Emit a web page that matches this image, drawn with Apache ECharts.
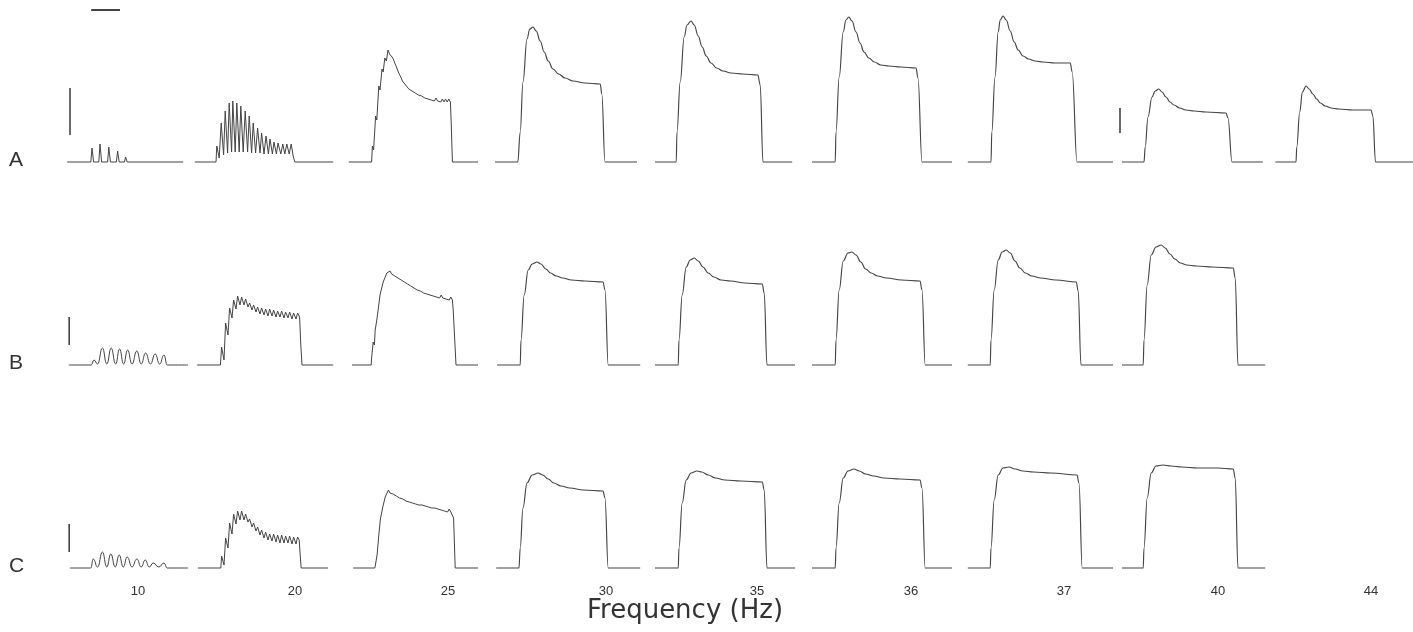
<!DOCTYPE html>
<html>
<head>
<meta charset="utf-8">
<title>Force traces vs stimulation frequency</title>
<script src="https://cdn.jsdelivr.net/npm/echarts@6/dist/echarts.min.js"></script>
<style>
  html, body { margin: 0; padding: 0; background: #fff; }
  #chart { width: 1413px; height: 632px; }
</style>
</head>
<body>
<div id="chart"></div>
<script>
// stimulation frequencies (Hz), one column each
const freqs = ['10', '20', '25', '30', '35', '36', '37', '40', '44'];
const rows = ['A', 'B', 'C'];

// traces: [time (ms), force (arb. units)]
const a10 = [[90,0],[385,0],[400,14],[420,0],[485,0],[500,18],[520,0],[595,0],[610,15],[630,0],[705,0],[720,11],[740,0],[805,0],[820,5],[840,0],[1540,0]];
const a20 = [[60,0],[325,0],[335,16],[365,4],[390,39],[420,7],[440,51],[470,9],[490,59],[520,10],[535,61],[565,10],[585,59],[615,10],[635,56],[665,10],[690,51],[720,10],[740,46],[770,9],[790,39],[820,9],[845,34],[875,9],[895,29],[925,8],[950,26],[980,8],[1000,23],[1030,8],[1050,20],[1080,8],[1100,19],[1135,8],[1160,18],[1185,8],[1210,18],[1240,8],[1265,18],[1290,6],[1310,0],[1790,0]];
const a25 = [[110,0],[395,0],[405,16],[420,12],[445,46],[460,42],[485,76],[500,72],[525,93],[540,90],[560,104],[580,101],[600,112],[620,108],[640,108],[660,104],[680,100],[700,96],[720,92],[740,88],[760,85],[780,81],[800,80],[820,77],[840,76],[860,73],[880,74],[900,71],[920,72],[940,69],[960,70],[980,67],[1000,69],[1020,66],[1040,67],[1060,64],[1080,66],[1100,63],[1120,65],[1140,62],[1160,64],[1180,61],[1200,64],[1220,61],[1240,63],[1260,60],[1280,63],[1300,60],[1320,63],[1340,60],[1360,63],[1380,60],[1390,40],[1405,0],[1725,0]];
const a30 = [[125,0],[410,0],[440,30],[475,80],[525,123],[560,133],[600,135],[640,131],[690,121],[740,110],[790,101],[850,93],[920,88],[1000,84],[1100,81],[1250,79],[1440,78],[1460,68],[1500,0],[1900,0]];
const a35 = [[125,0],[390,0],[400,30],[440,80],[490,125],[525,137],[575,141],[615,137],[665,126],[715,115],[765,106],[825,99],[895,94],[975,91],[1075,89],[1225,88],[1410,87],[1440,77],[1475,0],[1840,0]];
const a36 = [[150,0],[440,0],[450,30],[490,85],[540,130],[575,142],[610,145],[650,141],[700,130],[750,119],[800,110],[860,104],[930,100],[1010,97],[1110,96],[1260,95],[1450,94],[1475,84],[1525,0],[1900,0]];
const a37 = [[160,0],[450,0],[460,30],[500,85],[540,130],[565,142],[600,146],[640,142],[690,131],[740,120],[790,112],[850,106],[920,103],[1000,101],[1100,100],[1250,99],[1440,99],[1465,90],[1525,0],[1975,0]];
const a40 = [[150,0],[425,0],[440,15],[475,45],[525,65],[565,71],[610,73],[650,70],[700,65],[750,60],[800,57],[870,54],[950,52],[1050,51],[1200,50],[1450,49],[1475,44],[1525,0],[1910,0]];
const a44 = [[165,0],[440,0],[450,15],[490,50],[525,70],[575,76],[615,73],[665,68],[715,63],[765,59],[830,56],[910,54],[1010,53],[1200,52],[1440,52],[1465,46],[1500,0],[2000,0]];

const b10 = [[110,0],[390,0],[425,5],[470,1],[530,17],[585,1],[640,17],[695,1],[745,16],[795,1],[845,15],[900,1],[960,14],[1015,1],[1070,12],[1130,1],[1190,11],[1245,1],[1300,10],[1340,0],[1600,0]];
const b20 = [[90,0],[380,0],[395,18],[425,5],[445,42],[475,30],[495,57],[525,47],[545,65],[575,56],[595,69],[625,60],[645,68],[675,60],[695,66],[725,58],[745,62],[775,55],[795,60],[825,53],[845,58],[875,51],[895,57],[925,50],[945,56],[975,49],[995,56],[1025,49],[1045,55],[1075,48],[1095,54],[1125,48],[1145,54],[1175,47],[1195,53],[1225,47],[1245,53],[1275,46],[1295,52],[1325,46],[1345,52],[1370,48],[1385,20],[1400,0],[1790,0]];
const b25 = [[150,0],[390,0],[395,7],[405,5],[415,23],[430,20],[440,35],[450,33],[460,45],[470,43],[480,57],[490,55],[500,70],[520,68],[540,83],[565,81],[585,92],[605,90],[625,94],[645,91],[665,92],[685,89],[705,90],[725,87],[745,88],[765,85],[785,86],[805,83],[825,84],[845,81],[865,82],[885,79],[905,80],[925,77],[945,78],[965,75],[985,77],[1005,74],[1025,75],[1045,72],[1065,74],[1085,71],[1105,73],[1125,70],[1145,72],[1165,69],[1185,71],[1205,68],[1225,70],[1245,67],[1265,70],[1285,67],[1305,69],[1325,66],[1345,68],[1365,65],[1385,68],[1405,65],[1415,55],[1450,0],[1725,0]];
const b30 = [[150,0],[440,0],[450,25],[490,70],[540,95],[590,101],[650,103],[700,101],[760,96],[820,92],[890,89],[970,87],[1080,85],[1250,84],[1475,83],[1500,75],[1540,0],[1940,0]];
const b35 = [[125,0],[415,0],[425,25],[465,70],[515,98],[565,105],[615,107],[665,104],[725,98],[790,92],[860,88],[950,85],[1070,84],[1250,82],[1465,81],[1490,72],[1525,0],[1875,0]];
const b36 = [[150,0],[440,0],[450,25],[490,75],[540,104],[600,112],[650,113],[700,110],[760,103],[820,96],[890,92],[970,89],[1080,87],[1270,85],[1500,84],[1525,75],[1565,0],[1900,0]];
const b37 = [[160,0],[440,0],[450,25],[490,75],[540,105],[590,113],[640,115],[690,112],[750,104],[810,97],[880,92],[960,89],[1070,87],[1260,85],[1515,83],[1540,74],[1575,0],[1975,0]];
const b40 = [[150,0],[415,0],[425,25],[465,80],[515,110],[575,118],[640,120],[690,117],[750,111],[810,106],[880,102],[960,100],[1080,99],[1280,98],[1540,97],[1565,87],[1600,0],[1940,0]];

const c10 = [[125,0],[385,0],[415,9],[470,1],[530,16],[585,1],[635,14],[690,1],[740,13],[790,1],[840,11],[900,1],[960,9],[1015,1],[1065,8],[1115,1],[1165,5],[1235,1],[1300,5],[1340,0],[1600,0]];
const c20 = [[100,0],[385,0],[395,12],[425,3],[445,30],[475,20],[495,45],[525,34],[545,54],[575,44],[595,57],[625,48],[645,57],[675,48],[695,54],[725,46],[745,49],[775,41],[795,45],[825,37],[845,41],[875,33],[895,38],[925,30],[945,36],[975,28],[995,34],[1025,27],[1045,34],[1075,26],[1095,33],[1125,25],[1145,33],[1175,25],[1195,32],[1225,25],[1245,32],[1275,24],[1295,31],[1325,24],[1345,31],[1365,28],[1380,10],[1390,0],[1725,0]];
const c25 = [[165,0],[435,0],[445,4],[455,2],[465,14],[475,12],[485,33],[495,31],[505,49],[520,47],[535,61],[550,59],[565,71],[585,69],[605,78],[625,75],[645,77],[665,74],[685,75],[705,72],[725,73],[745,70],[765,72],[785,69],[805,70],[825,67],[845,69],[865,66],[885,68],[905,65],[925,67],[945,64],[965,66],[985,63],[1005,65],[1025,63],[1045,65],[1065,62],[1085,64],[1105,61],[1125,63],[1145,60],[1165,62],[1185,60],[1205,62],[1225,59],[1245,61],[1265,58],[1285,60],[1305,57],[1325,59],[1345,56],[1365,59],[1385,56],[1405,58],[1420,50],[1440,0],[1725,0]];
const c30 = [[140,0],[425,0],[440,20],[475,60],[525,85],[590,93],[665,95],[720,93],[790,89],[860,85],[950,82],[1060,80],[1230,78],[1475,77],[1500,70],[1540,0],[1940,0]];
const c35 = [[125,0],[415,0],[425,20],[465,65],[515,88],[575,95],[650,97],[710,96],[790,93],[880,90],[1000,88],[1200,87],[1465,86],[1490,78],[1525,0],[1875,0]];
const c36 = [[150,0],[440,0],[450,20],[490,65],[540,90],[600,97],[675,99],[740,97],[820,94],[920,92],[1050,90],[1250,89],[1500,88],[1525,80],[1565,0],[1900,0]];
const c37 = [[160,0],[440,0],[450,20],[490,68],[540,93],[600,100],[675,101],[750,99],[850,97],[980,96],[1200,95],[1525,93],[1550,85],[1590,0],[1975,0]];
const c40 = [[150,0],[415,0],[425,20],[465,70],[515,95],[575,102],[665,103],[760,102],[900,101],[1100,100],[1350,100],[1540,99],[1565,90],[1600,0],[1940,0]];

// scale bars: [time, force] end points
const timeBar = [[390,152],[750,152]];
const forceBarA = [[125,27],[125,74]];
const forceBarA40 = [[125,29],[125,54]];
const forceBarB = [[115,20],[115,48]];
const forceBarC = [[115,16],[115,44]];

const traces = [
  [a10, a20, a25, a30, a35, a36, a37, a40, a44],
  [b10, b20, b25, b30, b35, b36, b37, b40],
  [c10, c20, c25, c30, c35, c36, c37, c40]
];

// layout of the panels (px)
const colLeft = [60, 190, 340, 485, 645, 800, 955, 1110, 1263];
const rowBase = [162, 365, 568];
const labelX = [138, 295, 448, 606, 757, 911, 1064, 1218, 1371];
const PANEL_W = 160;
const PANEL_H = 160;
const T_MAX = 2000;
const F_MAX = 160;
const INK = '#444';

const grid = [];
const xAxis = [];
const yAxis = [];
const series = [];

function gridIndex(r, c) {
  return r * freqs.length + c;
}

rows.forEach((row, r) => {
  freqs.forEach((f, c) => {
    grid.push({
      left: colLeft[c],
      top: rowBase[r] - PANEL_H,
      width: PANEL_W,
      height: PANEL_H,
      containLabel: false
    });
    xAxis.push({ type: 'value', min: 0, max: T_MAX, show: false, gridIndex: gridIndex(r, c) });
    yAxis.push({ type: 'value', min: 0, max: F_MAX, show: false, gridIndex: gridIndex(r, c) });
  });
});

traces.forEach((rowTraces, r) => {
  rowTraces.forEach((data, c) => {
    const rippled = c <= 2;
    let smooth = rippled ? false : 0.4;
    if (c === 0 && r > 0) {
      smooth = 0.5;
    }
    series.push({
      type: 'line',
      xAxisIndex: gridIndex(r, c),
      yAxisIndex: gridIndex(r, c),
      data: data,
      showSymbol: false,
      smooth: smooth,
      smoothMonotone: 'x',
      clip: false,
      lineStyle: { color: INK, width: rippled ? 1 : 1.15 },
      silent: true
    });
  });
});

function bar(data, r, c, w) {
  series.push({
    type: 'line',
    xAxisIndex: gridIndex(r, c),
    yAxisIndex: gridIndex(r, c),
    data: data,
    showSymbol: false,
    clip: false,
    lineStyle: { color: INK, width: w },
    silent: true
  });
}
bar(timeBar, 0, 0, 2);
bar(forceBarA, 0, 0, 1.6);
bar(forceBarA40, 0, 7, 1.6);
bar(forceBarB, 1, 0, 1.6);
bar(forceBarC, 2, 0, 1.6);

const FONT = '"Liberation Sans", Arial, sans-serif';
const graphic = [];
rows.forEach((row, r) => {
  graphic.push({
    type: 'text',
    left: 9,
    top: rowBase[r] - 12,
    style: { text: row, font: '21px ' + FONT, fill: '#333' }
  });
});
freqs.forEach((f, c) => {
  graphic.push({
    type: 'text',
    x: labelX[c],
    y: 591,
    style: { text: f, font: '13px ' + FONT, fill: '#333', textAlign: 'center', textVerticalAlign: 'middle' }
  });
});
graphic.push({
  type: 'text',
  x: 685,
  y: 611,
  style: { text: 'Frequency (Hz)', font: '26px "DejaVu Sans", sans-serif', fill: '#333', textAlign: 'center', textVerticalAlign: 'middle' }
});

const chart = echarts.init(document.getElementById('chart'), null, { renderer: 'canvas' });
chart.setOption({
  animation: false,
  backgroundColor: '#fff',
  grid: grid,
  xAxis: xAxis,
  yAxis: yAxis,
  series: series,
  graphic: graphic
});
</script>
</body>
</html>
